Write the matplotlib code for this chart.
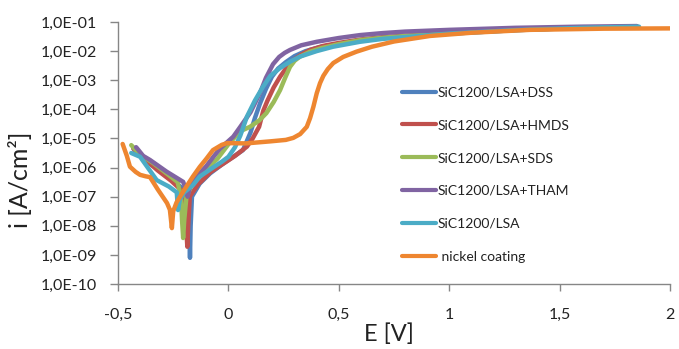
import numpy as np
import matplotlib
matplotlib.use("Agg")
import matplotlib.pyplot as plt
from matplotlib.ticker import FuncFormatter, FixedLocator

# ---- data (E [V], log10 i [A/cm2]) ----
labels = ["SiC1200/LSA+DSS", "SiC1200/LSA+HMDS", "SiC1200/LSA+SDS",
          "SiC1200/LSA+THAM", "SiC1200/LSA", " nickel coating"]
colors = ["#4F81BD", "#C0504D", "#9BBB59", "#8064A2", "#4BACC6", "#EE8630"]

dss_E = [-0.43, -0.38, -0.32, -0.26, -0.21, -0.185, -0.177, -0.174, -0.171, -0.165, -0.13, -0.083,
         -0.03, 0.022, 0.066, 0.1, 0.12, 0.143, 0.17, 0.197, 0.225, 0.26, 0.3, 0.35, 0.42, 0.5,
         0.6, 0.7, 0.85, 1.0, 1.3, 1.6, 1.85]
dss_L = [-5.35, -5.75, -6.05, -6.4, -6.7, -7.2, -8.0, -9.1, -8.0, -7.0, -6.55, -6.2,
         -5.9, -5.63, -5.4, -4.8, -4.3, -3.8, -3.3, -2.88, -2.6, -2.38, -2.17, -2.0, -1.85, -1.75,
         -1.63, -1.55, -1.47, -1.4, -1.28, -1.2, -1.16]

hmds_E = [-0.43, -0.38, -0.32, -0.26, -0.21, -0.195, -0.19, -0.186, -0.182, -0.175, -0.14, -0.08,
          -0.02, 0.03, 0.084, 0.11, 0.139, 0.158, 0.177, 0.205, 0.234, 0.265, 0.294, 0.33, 0.37, 0.43,
          0.5, 0.6, 0.7, 0.85, 1.0, 1.3, 1.6, 1.85]
hmds_L = [-5.35, -5.7, -6.1, -6.45, -6.8, -7.4, -8.2, -8.72, -8.0, -7.0, -6.6, -6.15,
          -5.85, -5.6, -5.28, -5.0, -4.6, -4.05, -3.7, -3.25, -2.88, -2.55, -2.31, -2.12, -1.96, -1.82,
          -1.72, -1.6, -1.52, -1.45, -1.38, -1.27, -1.2, -1.16]

sds_E = [-0.44, -0.40, -0.34, -0.28, -0.23, -0.215, -0.21, -0.205, -0.2, -0.19, -0.16, -0.1,
         -0.05, 0.0, 0.054, 0.098, 0.14, 0.172, 0.205, 0.234, 0.258, 0.279, 0.3, 0.324, 0.37, 0.42,
         0.5, 0.6, 0.7, 0.8, 1.0, 1.3, 1.6, 1.85]
sds_L = [-5.23, -5.55, -5.85, -6.2, -6.5, -7.0, -7.8, -8.42, -7.8, -7.0, -6.5, -6.05,
         -5.7, -5.2, -4.75, -4.6, -4.38, -4.13, -3.75, -3.34, -2.9, -2.54, -2.33, -2.19, -2.02, -1.9,
         -1.76, -1.62, -1.54, -1.48, -1.38, -1.27, -1.2, -1.16]

tham_E = [-0.418, -0.386, -0.355, -0.28, -0.205, -0.192, -0.185, -0.175, -0.144, -0.1, -0.068,
          -0.038, 0.022, 0.054, 0.1, 0.143, 0.17, 0.202, 0.23, 0.255, 0.279, 0.33, 0.4, 0.5, 0.596,
          0.7, 0.8, 1.0, 1.3, 1.6, 1.85]
tham_L = [-5.3, -5.6, -5.74, -6.14, -6.49, -6.75, -7.0, -6.7, -6.31, -5.95, -5.63,
          -5.35, -4.94, -4.6, -4.1, -3.44, -2.92, -2.45, -2.2, -2.06, -1.96, -1.8, -1.68, -1.55, -1.45,
          -1.38, -1.33, -1.27, -1.2, -1.16, -1.14]

sic_E = [-0.44, -0.4, -0.325, -0.27, -0.234, -0.228, -0.22, -0.2, -0.16, -0.13, -0.07, -0.03,
         0.0, 0.03, 0.054, 0.084, 0.12, 0.157, 0.19, 0.234, 0.28, 0.324, 0.4, 0.474, 0.596, 0.7,
         0.8, 1.0, 1.3, 1.6, 1.86]
sic_L = [-5.5, -5.63, -6.43, -6.65, -6.85, -7.46, -7.1, -6.85, -6.6, -6.31, -6.0, -5.8,
         -5.63, -5.3, -4.9, -4.25, -3.7, -3.22, -2.85, -2.58, -2.36, -2.19, -2.0, -1.85, -1.68, -1.58,
         -1.52, -1.4, -1.28, -1.2, -1.16]

ni_E = [-0.479, -0.46, -0.446, -0.42, -0.4, -0.375, -0.355, -0.32, -0.278, -0.265, -0.256,
        -0.25, -0.235, -0.219, -0.19, -0.16, -0.13, -0.1, -0.07, -0.03, -0.006, 0.08, 0.19, 0.26,
        0.294, 0.325, 0.355, 0.37, 0.385, 0.4, 0.415, 0.43, 0.45, 0.475, 0.52, 0.58, 0.65, 0.75,
        0.913, 1.1, 1.366, 1.7, 2.0]
ni_L = [-5.19, -5.6, -5.97, -6.15, -6.25, -6.3, -6.33, -6.75, -7.22, -7.45, -8.08,
        -7.5, -7.2, -7.0, -6.65, -6.3, -5.98, -5.7, -5.4, -5.22, -5.16, -5.17, -5.1, -5.05,
        -4.98, -4.85, -4.6, -4.3, -3.91, -3.45, -3.1, -2.85, -2.62, -2.41, -2.2, -2.02, -1.85, -1.67,
        -1.48, -1.37, -1.27, -1.23, -1.22]

series_E = [dss_E, hmds_E, sds_E, tham_E, sic_E, ni_E]
series_L = [dss_L, hmds_L, sds_L, tham_L, sic_L, ni_L]

x_ticks = [-0.5, 0, 0.5, 1, 1.5, 2]
y_exps = list(range(-10, 0))

plt.rcParams['font.family'] = ['Lato', 'DejaVu Sans']

fig = plt.figure(figsize=(6.79, 3.49), dpi=100)
ax = fig.add_axes([0.1738, 0.1862, 0.8129, 0.7508])

for i, (E, L) in enumerate(zip(series_E, series_L)):
    ax.plot(E, 10.0 ** np.array(L), color=colors[i], lw=3.2, label=labels[i],
            solid_capstyle='round', solid_joinstyle='round', zorder=2 + i)

ax.set_yscale('log')
ax.set_xlim(-0.5, 2.0)
ax.set_ylim(1e-10, 1e-1)
ax.yaxis.set_major_locator(FixedLocator([10.0 ** e for e in y_exps]))
ax.yaxis.set_minor_locator(FixedLocator([]))
ax.yaxis.set_major_formatter(FuncFormatter(
    lambda v, p: "1,0E-%02d" % int(round(-np.log10(v)))))
ax.xaxis.set_major_locator(FixedLocator(x_ticks))
ax.xaxis.set_major_formatter(FuncFormatter(
    lambda v, p: ("%g" % v).replace('.', ',')))

for s in ['top', 'right']:
    ax.spines[s].set_visible(False)
for s in ['left', 'bottom']:
    ax.spines[s].set_color('#868686')
    ax.spines[s].set_linewidth(1.0)
ax.tick_params(axis='y', which='major', direction='out', length=6, width=1,
               color='#868686', labelsize=11.5, labelcolor='#222222', pad=9)
ax.tick_params(axis='x', which='major', direction='out', length=5, width=1,
               color='#868686', labelsize=11.5, labelcolor='#222222', pad=12)

ax.set_xlabel("E [V]", fontsize=17, color='#222222')
ax.xaxis.set_label_coords(0.49, -0.19)
ax.xaxis.label.set_va('center')

# y label placed as a free text centred where the reference has it
fig.text(20 / 679, 1 - 180 / 349, "i [A/cm²]", fontsize=18, color='#222222',
         rotation=90, ha='center', va='center')

leg = ax.legend(loc='upper left', bbox_to_anchor=(0.505, 0.775), frameon=False,
                fontsize=10, handlelength=2.4, handletextpad=0.15,
                labelspacing=1.5, borderaxespad=0)
for line in leg.get_lines():
    line.set_linewidth(3)
for t in leg.get_texts():
    t.set_color('#222222')

fig.savefig("out.png", dpi=100)
